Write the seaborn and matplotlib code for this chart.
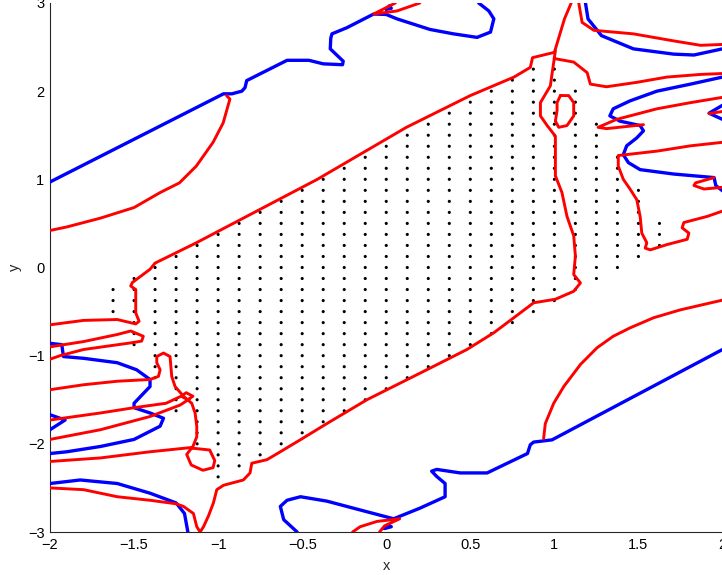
import numpy as np
import pandas as pd
import matplotlib
matplotlib.use("Agg")
import matplotlib.pyplot as plt
import seaborn as sns

# ---- grid of sample points: per column x, lowest and highest y (step 0.125) ----
dot_cols = [-1.625, -1.5, -1.375, -1.25, -1.125, -1.0, -0.875, -0.75, -0.625, -0.5,
            -0.375, -0.25, -0.125, 0.0, 0.125, 0.25, 0.375, 0.5, 0.625, 0.75,
            0.875, 1.0, 1.125, 1.25, 1.375, 1.5, 1.625]
dot_ymin = [-0.5, -0.875, -1.25, -1.625, -2.0, -2.375, -2.25, -2.125, -2.0, -1.875,
            -1.75, -1.625, -1.5, -1.375, -1.25, -1.125, -1.0, -0.875, -0.75, -0.625,
            -0.5, -0.375, -0.25, -0.125, 0.0, 0.125, 0.25]
dot_ymax = [-0.25, -0.125, 0.0, 0.125, 0.25, 0.375, 0.5, 0.625, 0.75, 0.875,
            1.0, 1.125, 1.25, 1.375, 1.5, 1.625, 1.75, 1.875, 2.0, 2.125,
            2.25, 2.375, 2.0, 1.625, 1.25, 0.875, 0.5]
dot_step = 0.125

# ---- blue curves ----
blue_top = [(-2.0, 0.97), (-0.968, 1.97), (-0.918, 1.97), (-0.859, 2.0), (-0.84, 2.04),
            (-0.83, 2.12), (-0.59, 2.35), (-0.46, 2.35), (-0.375, 2.31), (-0.26, 2.30),
            (-0.256, 2.34), (-0.333, 2.48), (-0.33, 2.60), (-0.323, 2.65), (-0.234, 2.72),
            (-0.075, 2.875), (0.0, 2.87), (0.064, 2.82), (0.26, 2.70), (0.40, 2.65),
            (0.54, 2.61), (0.62, 2.67), (0.64, 2.82), (0.61, 2.91), (0.55, 3.0)]
blue_top_blob = [(0.0, 2.93), (0.02, 2.97), (0.03, 2.94), (0.0, 2.93)]
blue_bottom = [(-0.53, -3.0), (-0.61, -2.86), (-0.63, -2.71), (-0.59, -2.64), (-0.51, -2.60),
               (-0.353, -2.65), (-0.195, -2.73), (-0.036, -2.81), (0.044, -2.85), (0.20, -2.73),
               (0.35, -2.60), (0.35, -2.45), (0.30, -2.37), (0.27, -2.31), (0.30, -2.29),
               (0.44, -2.33), (0.60, -2.33), (0.84, -2.11), (0.857, -2.01), (0.877, -1.98),
               (0.986, -1.955), (2.0, -0.93)]
blue_bottom_blob = [(-0.01, -2.96), (0.01, -2.92), (0.03, -2.94), (-0.01, -2.96)]
blue_tr1 = [(1.185, 3.0), (1.20, 2.82), (1.28, 2.63), (1.47, 2.48), (1.71, 2.42),
            (1.83, 2.41), (2.0, 2.48)]
blue_tr2 = [(2.0, 2.16), (1.81, 2.08), (1.61, 2.0), (1.45, 1.89), (1.35, 1.80), (1.33, 1.72),
            (1.39, 1.66), (1.51, 1.61), (1.53, 1.55), (1.49, 1.47), (1.43, 1.38), (1.41, 1.28),
            (1.44, 1.19), (1.51, 1.11), (1.71, 1.06), (1.83, 1.04), (1.95, 1.02), (1.96, 0.93),
            (2.0, 0.87)]
blue_tr3 = [(2.0, 1.84), (1.92, 1.75), (2.0, 1.68)]
blue_l1 = [(-2.0, -0.86), (-1.93, -0.875), (-1.92, -1.01), (-1.80, -1.03), (-1.60, -1.08),
           (-1.485, -1.16), (-1.405, -1.27), (-1.405, -1.35), (-1.50, -1.54), (-1.50, -1.59),
           (-1.405, -1.65), (-1.325, -1.71), (-1.345, -1.80), (-1.50, -1.95), (-1.70, -2.03),
           (-1.90, -2.09), (-2.0, -2.11)]
blue_l2 = [(-2.0, -1.67), (-1.91, -1.73), (-2.0, -1.84)]
blue_l3 = [(-2.0, -2.45), (-1.82, -2.41), (-1.60, -2.45), (-1.405, -2.56), (-1.25, -2.67),
           (-1.20, -2.79), (-1.18, -3.0)]

# ---- red curves ----
red_main = [(-2.0, -0.65), (-1.80, -0.60), (-1.60, -0.59), (-1.49, -0.64), (-1.47, -0.61),
            (-1.49, -0.515), (-1.49, -0.36), (-1.49, -0.25), (-1.52, -0.21), (-1.51, -0.17),
            (-1.405, -0.02), (-1.375, 0.05), (-1.13, 0.28), (-0.77, 0.64), (-0.41, 1.0),
            (0.12, 1.59), (0.5, 1.95), (0.76, 2.16), (0.857, 2.27), (0.87, 2.38), (1.0, 2.44),
            (1.03, 2.63), (1.06, 2.82), (1.10, 3.0)]
red_vert = [(1.006, 2.46), (0.976, 2.06), (0.917, 1.87), (0.917, 1.72), (0.957, 1.61),
            (1.006, 1.49), (1.006, 1.04), (1.045, 0.85), (1.075, 0.58), (1.115, 0.36),
            (1.125, 0.13), (1.115, -0.08), (1.155, -0.175), (1.115, -0.27), (1.006, -0.36),
            (0.877, -0.40), (0.64, -0.74), (0.48, -0.93), (0.262, -1.14), (-0.115, -1.5),
            (-0.353, -1.77), (-0.512, -1.955), (-0.63, -2.09), (-0.71, -2.18), (-0.80, -2.22),
            (-0.81, -2.33), (-0.85, -2.41), (-0.968, -2.47), (-1.008, -2.52), (-1.028, -2.67),
            (-1.058, -2.82), (-1.087, -2.94), (-1.107, -3.0)]
red_oval = [(1.036, 1.95), (1.085, 1.95), (1.115, 1.87), (1.115, 1.72), (1.075, 1.61),
            (1.026, 1.59), (1.006, 1.66), (1.016, 1.78), (1.016, 1.87), (1.036, 1.95)]
red_top_v = [(0.054, 3.0), (-0.075, 2.875), (0.064, 2.91), (0.2, 3.0)]
red_bot_v = [(-0.2, -3.0), (-0.155, -2.94), (-0.055, -2.88), (0.08, -2.85), (-0.01, -2.93),
             (-0.04, -3.0)]
red_tr3 = [(1.145, 3.0), (1.165, 2.78), (1.235, 2.69), (1.47, 2.65), (1.71, 2.57),
           (1.87, 2.52), (2.0, 2.53)]
red_tr4 = [(1.0, 2.37), (1.115, 2.33), (1.195, 2.21), (1.214, 2.08), (1.31, 2.05),
           (1.49, 2.10), (1.67, 2.16), (1.87, 2.19), (2.0, 2.20)]
red_sliver = [(2.0, 1.93), (1.81, 1.87), (1.61, 1.80), (1.37, 1.68), (1.26, 1.59),
              (1.31, 1.575), (1.53, 1.62)]
red_stub = [(2.0, 1.77), (1.92, 1.745)]
red_r8 = [(2.0, 1.42), (1.81, 1.38), (1.61, 1.32), (1.38, 1.27), (1.38, 1.15), (1.41, 1.0),
          (1.45, 0.89), (1.49, 0.77), (1.51, 0.58), (1.52, 0.39), (1.55, 0.28), (1.54, 0.22),
          (1.57, 0.20), (1.67, 0.26), (1.79, 0.32), (1.80, 0.39), (1.76, 0.45), (1.77, 0.51),
          (1.91, 0.58), (2.0, 0.64)]
red_hook = [(1.95, 1.02), (1.84, 0.96), (1.83, 0.93), (1.89, 0.89), (2.0, 0.91)]
red_arc_l = [(-0.95, 1.95), (-0.93, 1.91), (-0.97, 1.64), (-1.03, 1.42), (-1.13, 1.15),
             (-1.23, 0.96), (-1.345, 0.85), (-1.50, 0.68), (-1.70, 0.56), (-1.90, 0.46),
             (-2.0, 0.42)]
red_arc_r = [(0.936, -1.94), (0.946, -1.77), (0.996, -1.54), (1.056, -1.35), (1.155, -1.10),
             (1.254, -0.91), (1.35, -0.78), (1.45, -0.685), (1.59, -0.57), (1.75, -0.48),
             (2.0, -0.37)]
red_finger = [(-2.0, -0.90), (-1.80, -0.84), (-1.60, -0.76), (-1.52, -0.72), (-1.445, -0.78),
              (-1.455, -0.835), (-1.52, -0.855), (-1.80, -0.93), (-1.94, -1.0), (-2.0, -1.04)]
red_l10 = [(-2.0, -1.386), (-1.80, -1.33), (-1.60, -1.29), (-1.405, -1.27), (-1.355, -1.235),
           (-1.345, -1.16), (-1.365, -1.08), (-1.365, -1.01), (-1.325, -0.97), (-1.286, -1.01),
           (-1.276, -1.235), (-1.256, -1.35), (-1.206, -1.46), (-1.157, -1.54), (-1.137, -1.65),
           (-1.127, -1.80), (-1.127, -1.92), (-1.15, -2.03), (-1.187, -2.12), (-1.16, -2.24),
           (-1.09, -2.30), (-1.03, -2.27), (-1.02, -2.19), (-1.05, -2.07), (-1.15, -2.05)]
red_l11 = [(-2.0, -1.73), (-1.70, -1.65), (-1.50, -1.59), (-1.31, -1.54), (-1.22, -1.46),
           (-1.19, -1.42), (-1.15, -1.46), (-1.18, -1.50), (-1.21, -1.47)]
red_l12 = [(-2.0, -1.95), (-1.70, -1.84), (-1.405, -1.69), (-1.226, -1.56), (-1.17, -1.49)]
red_l13 = [(-2.0, -2.20), (-1.70, -2.16), (-1.405, -2.09), (-1.15, -2.04)]
red_l14 = [(-2.0, -2.50), (-1.80, -2.52), (-1.60, -2.60), (-1.405, -2.64), (-1.25, -2.68),
           (-1.206, -2.71), (-1.147, -2.79), (-1.127, -2.94), (-1.107, -3.0)]

blue_curves = [blue_top, blue_top_blob, blue_bottom, blue_bottom_blob, blue_tr1, blue_tr2,
               blue_tr3, blue_l1, blue_l2, blue_l3]
red_curves = [red_main, red_vert, red_oval, red_top_v, red_bot_v, red_tr3, red_tr4,
              red_sliver, red_stub, red_r8, red_hook, red_arc_l, red_arc_r, red_finger,
              red_l10, red_l11, red_l12, red_l13, red_l14]

# ---- build tables ----
dx, dy = [], []
for cx, lo, hi in zip(dot_cols, dot_ymin, dot_ymax):
    n = int(round((hi - lo) / dot_step)) + 1
    for k in range(n):
        dx.append(cx)
        dy.append(lo + k * dot_step)
dots = pd.DataFrame({"x": dx, "y": dy})

sns.set_style("white")
plt.rcParams["font.family"] = ["Liberation Sans", "DejaVu Sans"]

fig = plt.figure(figsize=(7.22, 5.75), dpi=100)
ax = fig.add_axes([50 / 722, 43 / 575, 672.5 / 722, 529 / 575])

sns.scatterplot(data=dots, x="x", y="y", ax=ax, color="black", s=5, marker="o",
                edgecolor="none", zorder=2, legend=False)

for c in blue_curves:
    df = pd.DataFrame(c, columns=["x", "y"])
    sns.lineplot(data=df, x="x", y="y", sort=False, estimator=None, ax=ax,
                 color=(0.0, 0.0, 1.0), lw=2.4, zorder=3)
for c in red_curves:
    df = pd.DataFrame(c, columns=["x", "y"])
    sns.lineplot(data=df, x="x", y="y", sort=False, estimator=None, ax=ax,
                 color=(1.0, 0.0, 0.0), lw=2.1, zorder=4)

ax.set_xlim(-2, 2)
ax.set_ylim(-3, 3)
ax.set_xticks([-2, -1.5, -1, -0.5, 0, 0.5, 1, 1.5, 2])
ax.set_xticklabels(["\u22122", "\u22121.5", "\u22121", "\u22120.5", "0", "0.5", "1", "1.5", "2"])
ax.set_yticks([-3, -2, -1, 0, 1, 2, 3])
ax.set_yticklabels(["\u22123", "\u22122", "\u22121", "0", "1", "2", "3"])
ax.tick_params(direction="in", length=5, width=0.8, labelsize=10.5, colors="#262626",
               labelcolor="black", pad=4)
for s in ["top", "right"]:
    ax.spines[s].set_visible(False)
for s in ["left", "bottom"]:
    ax.spines[s].set_color("#262626")
    ax.spines[s].set_linewidth(0.8)
ax.set_xlabel("x", fontsize=10.5, labelpad=5)
ax.set_ylabel("y", fontsize=10.5, labelpad=4)

fig.savefig("out.png", dpi=100)
